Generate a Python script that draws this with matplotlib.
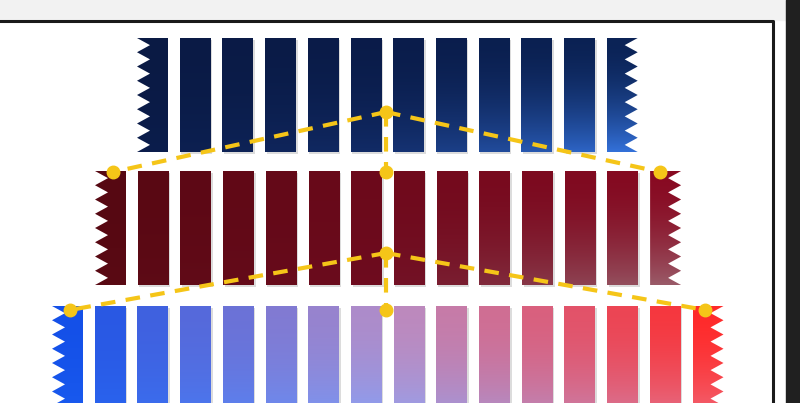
import matplotlib
matplotlib.use("Agg")
import matplotlib.pyplot as plt
import numpy as np
from matplotlib.colors import to_rgb
from matplotlib.patches import Polygon

# rows of bars: left edge, top, bottom, number of bars
row_left = [137, 95, 52]
row_top = [38, 171, 306]
row_bottom = [152, 285, 420]
row_count = [12, 14, 16]
# top colours at left / middle / right, bottom colours at left / middle / right
row_top_colors = [
    ["#0a1a44", "#0a1c4a", "#0b2356"],
    ["#560812", "#6e0a1c", "#880a22"],
    ["#1450e8", "#b890c8", "#ff2a2a"],
]
row_bottom_colors = [
    ["#0b1d4c", "#122c68", "#3370d8"],
    ["#5a0a14", "#700c20", "#9a5a68"],
    ["#1a5cf0", "#90a4f4", "#f06878"],
]

# yellow connectors: apex, left end, right end, vertical foot
apex = [(386, 112), (386, 253)]
left_end = [(113, 172), (70, 310)]
right_end = [(660, 172), (705, 310)]
foot = [(386, 172), (386, 310)]

BAR_W = 31
PITCH = 42.7
TEETH = 8
DEPTH = 13


def three_stop(cols, t):
    c = [np.array(to_rgb(x)) for x in cols]
    if t < 0.5:
        return c[0] + (c[1] - c[0]) * t * 2
    return c[1] + (c[2] - c[1]) * (t - 0.5) * 2


def bar_outline(x0, y0, y1, jag_left, jag_right):
    pts = []
    h = (y1 - y0) / TEETH
    if jag_left:
        for k in range(TEETH + 1):
            pts.append((x0, y0 + k * h))
            if k < TEETH:
                pts.append((x0 + DEPTH, y0 + (k + 0.5) * h))
    else:
        pts += [(x0, y0), (x0, y1)]
    x1 = x0 + BAR_W
    if jag_right:
        for k in range(TEETH, -1, -1):
            pts.append((x1, y0 + k * h))
            if k > 0:
                pts.append((x1 - DEPTH, y0 + (k - 0.5) * h))
    else:
        pts += [(x1, y1), (x1, y0)]
    return pts


fig = plt.figure(figsize=(8, 4.03), dpi=100)
ax = fig.add_axes([0, 0, 1, 1])
ax.set_xlim(0, 800)
ax.set_ylim(403, 0)
ax.axis("off")

# frame
ax.fill_between([0, 800], 0, 20, color="#f2f2f2", zorder=0)
ax.fill_between([786, 800], 0, 403, color="#202020", zorder=0)
ax.plot([0, 773, 773], [21, 21, 403], color="#1a1a1a", lw=2.2, zorder=1)

for r in range(3):
    n = row_count[r]
    y0, y1 = row_top[r], row_bottom[r]
    for i in range(n):
        t = i / (n - 1)
        x0 = row_left[r] + i * PITCH
        top = three_stop(row_top_colors[r], t)
        bot = three_stop(row_bottom_colors[r], t)
        g = np.linspace(0, 1, 60)[:, None, None] ** 1.8
        img = top[None, None, :] * (1 - g) + bot[None, None, :] * g
        pts = bar_outline(x0, y0, y1, i == 0, i == n - 1)
        if not (i == 0 or i == n - 1):
            shadow = Polygon([(px + 1.5, py + 1.5) for px, py in pts],
                             closed=True, fc="#dcdcdc", ec="none", zorder=2)
            ax.add_patch(shadow)
        poly = Polygon(pts, closed=True, fc="none", ec="none", zorder=3)
        ax.add_patch(poly)
        im = ax.imshow(img, extent=(x0, x0 + BAR_W, y1, y0), aspect="auto",
                       zorder=3, interpolation="bilinear")
        im.set_clip_path(poly)

ax.set_xlim(0, 800)
ax.set_ylim(403, 0)

yellow = "#f5c518"
for k in range(2):
    for end in (left_end[k], right_end[k], foot[k]):
        ax.plot([apex[k][0], end[0]], [apex[k][1], end[1]], color=yellow,
                lw=3, ls=(0, (3.5, 2.5)), zorder=5)
        ax.plot(*end, "o", color=yellow, ms=9, zorder=6)
    ax.plot(*apex[k], "o", color=yellow, ms=9, zorder=6)

fig.savefig("out.png", dpi=100)
